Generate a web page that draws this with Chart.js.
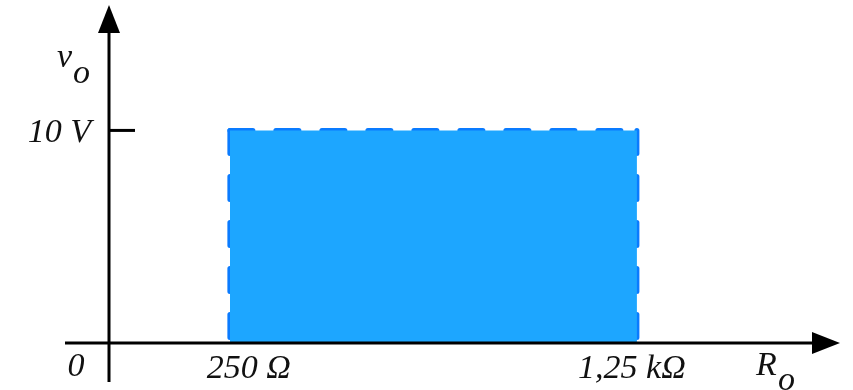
<!DOCTYPE html>
<html>
<head>
<meta charset="utf-8">
<script src="https://cdn.jsdelivr.net/npm/chart.js@4"></script>
<style>
  body { margin: 0; background: #fff; }
  #wrap { width: 853px; height: 390px; }
</style>
</head>
<body>
<div id="wrap"><canvas id="regionChart"></canvas></div>
<script>
// operating region: R_o from 250 ohm to 1.25 kohm, v_o = 10 V
const resistances = [250, 250, 1250, 1250];
const voltages = [0, 10, 10, 0];

const xTickValues = [250, 1250];
const xTickLabels = ['250 Ω', '1,25 kΩ'];
const yTickValues = [10];
const yTickLabels = ['10 V'];

const labelFont = 'italic 34px "Liberation Serif", "Times New Roman", serif';

const pts = resistances.map((r, i) => ({ x: r, y: voltages[i] }));

// dashed edges, each one starting at a top corner
function edge(points) {
    return {
        data: points,
        fill: false,
        borderColor: '#0A7BFF',
        borderWidth: 5,
        borderDash: [23, 23],
        borderCapStyle: 'round',
        tension: 0,
        pointRadius: 0
    };
}

// axes with arrows + labels, drawn from the scales
const axesPlugin = {
    id: 'axesPlugin',
    afterDatasetsDraw(chart) {
        const ctx = chart.ctx;
        const area = chart.chartArea;
        const xs = chart.scales.x;
        const ys = chart.scales.y;
        const x0 = area.left;
        const y0 = ys.getPixelForValue(0);

        ctx.save();
        ctx.strokeStyle = '#000';
        ctx.fillStyle = '#000';
        ctx.lineWidth = 3;

        // x axis
        ctx.beginPath();
        ctx.moveTo(x0 - 44, y0);
        ctx.lineTo(area.right - 28, y0);
        ctx.stroke();
        ctx.beginPath();
        ctx.moveTo(area.right - 28, y0 - 11);
        ctx.lineTo(area.right, y0);
        ctx.lineTo(area.right - 28, y0 + 11);
        ctx.closePath();
        ctx.fill();

        // y axis
        ctx.beginPath();
        ctx.moveTo(x0, y0 + 39);
        ctx.lineTo(x0, area.top + 28);
        ctx.stroke();
        ctx.beginPath();
        ctx.moveTo(x0 - 11, area.top + 28);
        ctx.lineTo(x0, area.top);
        ctx.lineTo(x0 + 11, area.top + 28);
        ctx.closePath();
        ctx.fill();

        ctx.font = labelFont;
        ctx.fillStyle = '#111';
        ctx.textBaseline = 'alphabetic';

        // y ticks
        yTickValues.forEach((v, i) => {
            const py = ys.getPixelForValue(v);
            ctx.beginPath();
            ctx.moveTo(x0, py);
            ctx.lineTo(x0 + 26, py);
            ctx.stroke();
            ctx.textAlign = 'right';
            ctx.fillText(yTickLabels[i], x0 - 18, py + 12);
        });

        // x ticks
        const xOffsets = [19, -5];
        xTickValues.forEach((v, i) => {
            ctx.textAlign = 'center';
            ctx.fillText(xTickLabels[i], xs.getPixelForValue(v) + xOffsets[i], y0 + 35);
        });

        // origin
        ctx.textAlign = 'center';
        ctx.fillText('0', x0 - 33, y0 + 33);

        // axis titles
        ctx.textAlign = 'left';
        ctx.fillText('v', x0 - 52, 67);
        ctx.fillText('o', x0 - 36, 83);
        ctx.fillText('R', 756, y0 + 32);
        ctx.fillText('o', 778, y0 + 47);
        ctx.restore();
    }
};

new Chart(document.getElementById('regionChart'), {
    type: 'line',
    data: {
        datasets: [
            {
                data: pts,
                backgroundColor: '#1DA6FF',
                borderWidth: 0,
                fill: 'origin',
                tension: 0,
                pointRadius: 0
            },
            edge([pts[1], pts[0]]),
            edge([pts[1], pts[2]]),
            edge([pts[2], pts[3]])
        ]
    },
    options: {
        responsive: true,
        maintainAspectRatio: false,
        animation: false,
        layout: {
            padding: { left: 109, right: 13, top: 5, bottom: 47 }
        },
        plugins: {
            legend: { display: false },
            tooltip: { enabled: false }
        },
        scales: {
            x: { type: 'linear', min: -47, max: 1749, display: false },
            y: { type: 'linear', min: 0, max: 15.9, display: false }
        }
    },
    plugins: [axesPlugin]
});
</script>
</body>
</html>
